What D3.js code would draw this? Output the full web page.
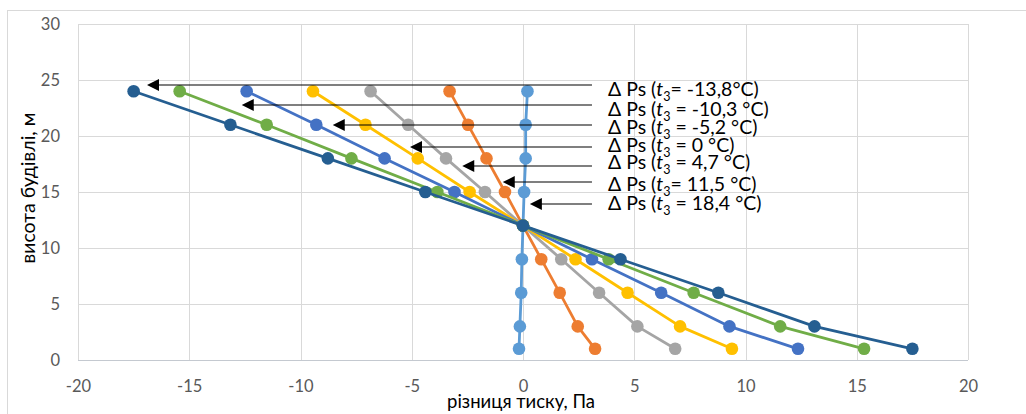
<!DOCTYPE html>
<html>
<head>
<meta charset="utf-8">
<script src="https://cdn.jsdelivr.net/npm/d3@7"></script>
<style>
  html, body { margin: 0; padding: 0; background: #fff; }
  svg { display: block; }
  text { font-family: Lato, "Noto Sans", sans-serif; }
</style>
</head>
<body>
<svg id="chart" width="1026" height="414"></svg>
<script>
// Building heights (m) at which the pressure difference was computed
const heights = [24, 21, 18, 15, 12, 9, 6, 3, 1];

// Pressure difference ΔPs (Pa) for each outdoor temperature t3
const dp_18_4  = [0.2, 0.12, 0.12, 0.05, 0, -0.05, -0.08, -0.14, -0.18];
const dp_11_5  = [-3.3, -2.47, -1.64, -0.81, 0, 0.82, 1.65, 2.46, 3.24];
const dp_4_7   = [-6.85, -5.16, -3.46, -1.71, 0, 1.72, 3.42, 5.14, 6.84];
const dp_0     = [-9.44, -7.08, -4.73, -2.4, 0, 2.36, 4.7, 7.06, 9.39];
const dp_m5_2  = [-12.42, -9.29, -6.22, -3.08, 0, 3.1, 6.21, 9.28, 12.36];
const dp_m10_3 = [-15.43, -11.52, -7.71, -3.85, 0, 3.85, 7.67, 11.56, 15.33];
const dp_m13_8 = [-17.5, -13.15, -8.77, -4.39, 0, 4.38, 8.78, 13.1, 17.5];

// Series in drawing order (later series are drawn on top)
const seriesValues = [dp_18_4, dp_11_5, dp_4_7, dp_0, dp_m5_2, dp_m10_3, dp_m13_8];
const seriesColors = ["#5B9BD5", "#ED7D31", "#A5A5A5", "#FFC000", "#4472C4", "#70AD47", "#255E91"];

// Callout labels, top to bottom
const calloutTail = ["= -13,8°C)", " = -10,3 °C)", " = -5,2 °C)", " = 0 °C)", " = 4,7 °C)", "= 11,5 °C)", " = 18,4 °C)"];
// Arrow tip (x, y) and text baseline (y), in data units
const calloutTipX  = [-16.9, -12.64, -8.55, -5.08, -2.73, -0.91, 0.31];
const calloutLineY = [24.55, 22.77, 20.98, 19.02, 17.32, 15.89, 13.93];
const calloutTextY = [23.57, 21.78, 20.18, 18.57, 17.05, 15.09, 13.39];

// Axis ticks
const xTicks = [-20, -15, -10, -5, 0, 5, 10, 15, 20];
const yTicks = [0, 5, 10, 15, 20, 25, 30];

const svg = d3.select("#chart");
const W = 1026, H = 414;
const plot = { left: 78, right: 968, top: 24, bottom: 360 };

const x = d3.scaleLinear().domain([-20, 20]).range([plot.left, plot.right]);
const y = d3.scaleLinear().domain([0, 30]).range([plot.bottom, plot.top]);

// Chart frame
svg.append("rect")
  .attr("x", 7.5).attr("y", 10.5)
  .attr("width", W + 10).attr("height", H + 10)
  .attr("fill", "#fff").attr("stroke", "#D9D9D9").attr("stroke-width", 1);

// Gridlines
const grid = svg.append("g");
grid.selectAll("line.h").data(yTicks.filter(d => d > 0)).join("line")
  .attr("x1", plot.left).attr("x2", plot.right)
  .attr("y1", d => Math.round(y(d)) + 0.5).attr("y2", d => Math.round(y(d)) + 0.5)
  .attr("stroke", "#D9D9D9").attr("stroke-width", 1);
grid.selectAll("line.v").data(xTicks).join("line")
  .attr("y1", plot.top).attr("y2", plot.bottom)
  .attr("x1", d => Math.round(x(d)) + 0.5).attr("x2", d => Math.round(x(d)) + 0.5)
  .attr("stroke", "#D9D9D9").attr("stroke-width", 1);

// Horizontal axis line
svg.append("line")
  .attr("x1", plot.left).attr("x2", plot.right)
  .attr("y1", plot.bottom + 0.5).attr("y2", plot.bottom + 0.5)
  .attr("stroke", "#C4C9D0").attr("stroke-width", 1.2);

// Axes (labels only; lines are drawn as gridlines above)
const fmt = d => String(d);
const xAxis = svg.append("g")
  .attr("transform", `translate(0,${plot.bottom + 20})`)
  .call(d3.axisBottom(x).tickValues(xTicks).tickSize(0).tickPadding(0).tickFormat(fmt));
xAxis.select(".domain").remove();
xAxis.selectAll("text")
  .attr("fill", "#595959").attr("font-size", 16.5).attr("dy", "0.71em")
  .style("font-family", "Lato, sans-serif");

const yAxis = svg.append("g")
  .attr("transform", `translate(${plot.left - 18},0)`)
  .call(d3.axisLeft(y).tickValues(yTicks).tickSize(0).tickPadding(0).tickFormat(fmt));
yAxis.select(".domain").remove();
yAxis.selectAll("text")
  .attr("fill", "#595959").attr("font-size", 16.5)
  .style("font-family", "Lato, sans-serif");

// Axis titles
svg.append("text")
  .attr("x", 521).attr("y", 408)
  .attr("text-anchor", "middle")
  .attr("font-size", 18.5).attr("fill", "#000")
  .text("різниця тиску, Па");

svg.append("text")
  .attr("transform", "translate(35,188) rotate(-90)")
  .attr("text-anchor", "middle")
  .attr("font-size", 19.5).attr("fill", "#000")
  .text("висота будівлі, м");

// Series lines and markers
const line = d3.line().x(d => x(d[0])).y(d => y(d[1]));
seriesValues.forEach((vals, i) => {
  const pts = vals.map((v, j) => [v, heights[j]]);
  const g = svg.append("g");
  g.append("path")
    .attr("d", line(pts))
    .attr("fill", "none")
    .attr("stroke", seriesColors[i])
    .attr("stroke-width", 2.8)
    .attr("stroke-linejoin", "round");
  g.selectAll("circle").data(pts).join("circle")
    .attr("cx", d => x(d[0])).attr("cy", d => y(d[1]))
    .attr("r", 6.3)
    .attr("fill", seriesColors[i]);
});

// Callouts: arrows pointing at each curve with a label on the right
const lineEndX = 3.1;
const labelX = 3.82;
const callouts = svg.append("g");
calloutTail.forEach((tail, i) => {
  const tx = x(calloutTipX[i]);
  const ly = y(calloutLineY[i]);
  callouts.append("line")
    .attr("x1", tx + 8).attr("x2", x(lineEndX))
    .attr("y1", ly).attr("y2", ly)
    .attr("stroke", "#000").attr("stroke-width", 1.1);
  callouts.append("path")
    .attr("d", `M${tx},${ly} L${tx + 12},${ly - 6} L${tx + 12},${ly + 6} Z`)
    .attr("fill", "#000");

  const t = callouts.append("text")
    .attr("x", x(labelX)).attr("y", y(calloutTextY[i]))
    .attr("font-size", 19.5).attr("fill", "#000");
  t.append("tspan").text("Δ Ps (");
  t.append("tspan").attr("font-style", "italic").text("t");
  t.append("tspan").attr("font-size", 12.5).attr("dy", 5).text("3");
  t.append("tspan").attr("dy", -5).text(tail);
});
</script>
</body>
</html>
